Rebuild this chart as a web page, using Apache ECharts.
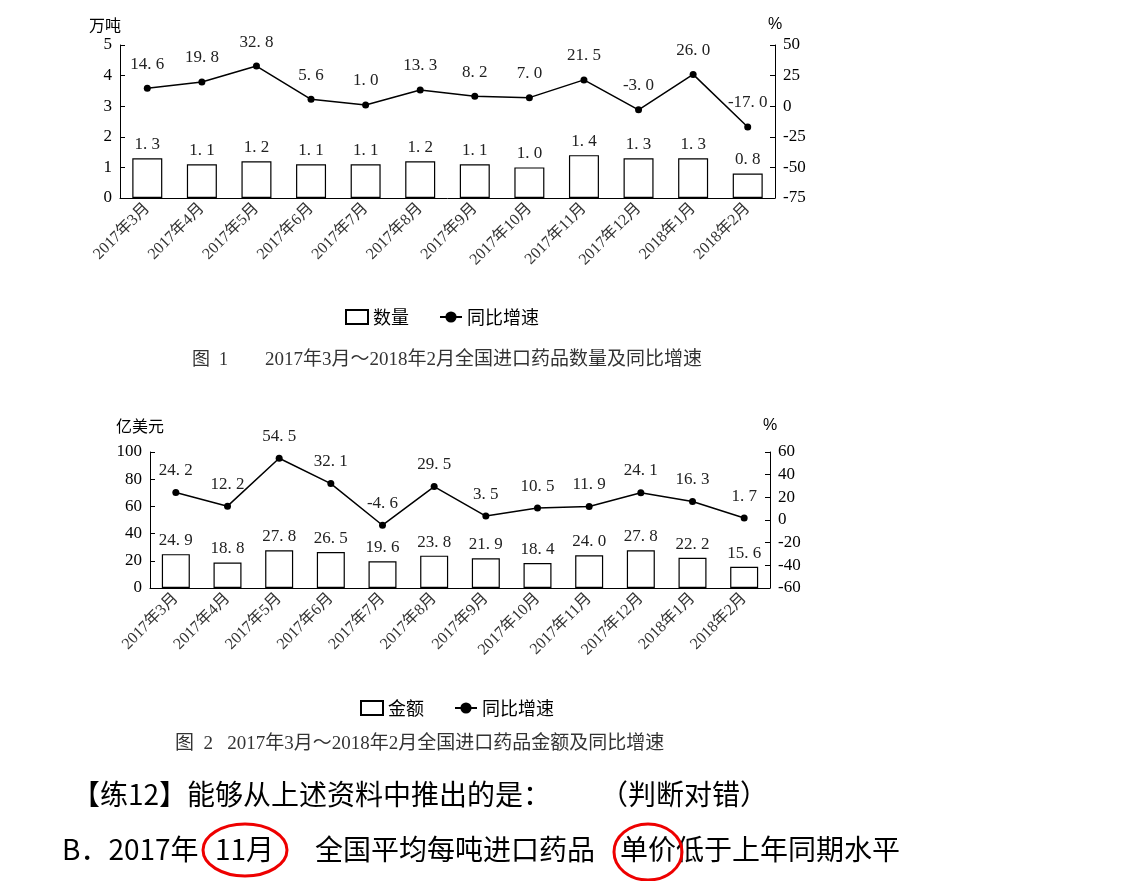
<!DOCTYPE html>
<html><head><meta charset="utf-8">
<script src="https://cdn.jsdelivr.net/npm/echarts@6/dist/echarts.min.js"></script>
<style>body{margin:0;background:#fff}#c{width:1146px;height:881px}</style>
</head><body><div id="c"></div>
<script>
const months = ['2017年3月','2017年4月','2017年5月','2017年6月','2017年7月','2017年8月','2017年9月','2017年10月','2017年11月','2017年12月','2018年1月','2018年2月'];
const qty = [1.3, 1.1, 1.2, 1.1, 1.1, 1.2, 1.1, 1.0, 1.4, 1.3, 1.3, 0.8];
const qtyGrowth = [14.6, 19.8, 32.8, 5.6, 1.0, 13.3, 8.2, 7.0, 21.5, -3.0, 26.0, -17.0];
const amount = [24.9, 18.8, 27.8, 26.5, 19.6, 23.8, 21.9, 18.4, 24.0, 27.8, 22.2, 15.6];
const amountGrowth = [24.2, 12.2, 54.5, 32.1, -4.6, 29.5, 3.5, 10.5, 11.9, 24.1, 16.3, 1.7];

const serif = '"Liberation Serif","Noto Sans CJK SC",serif';
const cjk = '"Noto Sans CJK SC",sans-serif';
const axisBase = {
  axisLine: {show: true, lineStyle: {color: '#000'}},
  axisTick: {show: true, inside: true, lineStyle: {color: '#000'}},
  splitLine: {show: false},
  axisLabel: {color: '#000', fontFamily: serif, fontSize: 17}
};
function catAxis(grid) {
  return {type: 'category', gridIndex: grid, data: months,
    axisLine: {lineStyle: {color: '#000'}}, axisTick: {show: false},
    axisLabel: {rotate: 45, color: '#333', fontFamily: serif, fontSize: 16, interval: 0}};
}
function fmt(v) { return v.toFixed(1).replace('.', '. '); }

const chart = echarts.init(document.getElementById('c'));
chart.setOption({
  animation: false,
  grid: [
    {left: 120, right: 371, top: 45, height: 153},
    {left: 150, right: 376, top: 452, height: 136}
  ],
  xAxis: [catAxis(0), catAxis(1)],
  yAxis: [
    Object.assign({type: 'value', gridIndex: 0, min: 0, max: 5, interval: 1, name: '万吨',
      nameGap: 12, nameTextStyle: {fontFamily: cjk, fontSize: 16, color: '#000', padding: [0, 30, 0, 0]}}, axisBase),
    Object.assign({type: 'value', gridIndex: 0, min: -75, max: 50, interval: 25, position: 'right', name: '%',
      nameGap: 12, nameTextStyle: {fontSize: 16, color: '#000'}}, axisBase),
    Object.assign({type: 'value', gridIndex: 1, min: 0, max: 100, interval: 20, name: '亿美元',
      nameGap: 18, nameTextStyle: {fontFamily: cjk, fontSize: 16, color: '#000', padding: [0, 20, 0, 0]}}, axisBase),
    Object.assign({type: 'value', gridIndex: 1, min: -60, max: 60, interval: 20, position: 'right', name: '%',
      nameGap: 18, nameTextStyle: {fontSize: 16, color: '#000'}}, axisBase)
  ],
  legend: [
    {left: 340, top: 303, itemGap: 30, itemWidth: 22, itemHeight: 14, textStyle: {fontFamily: cjk, fontSize: 18, color: '#000'},
      data: [{name: '数量', icon: 'rect'}, {name: '同比增速'}]},
    {left: 355, top: 694, itemGap: 30, itemWidth: 22, itemHeight: 14, textStyle: {fontFamily: cjk, fontSize: 18, color: '#000'},
      data: [{name: '金额', icon: 'rect'}, {name: '同比增速 '}]}
  ],
  series: [
    {name: '数量', type: 'bar', xAxisIndex: 0, yAxisIndex: 0, data: qty, barWidth: 30,
      itemStyle: {color: '#fff', borderColor: '#000', borderWidth: 1.2},
      label: {show: true, position: 'top', formatter: p => fmt(p.value), fontFamily: serif, fontSize: 17, color: '#222'}},
    {name: '同比增速', type: 'line', xAxisIndex: 0, yAxisIndex: 1, data: qtyGrowth, symbol: 'circle', symbolSize: 7,
      itemStyle: {color: '#000'}, lineStyle: {color: '#000', width: 1.5},
      label: {show: true, position: 'top', distance: 12, formatter: p => fmt(p.value), fontFamily: serif, fontSize: 17, color: '#222'}},
    {name: '金额', type: 'bar', xAxisIndex: 1, yAxisIndex: 2, data: amount, barWidth: 28,
      itemStyle: {color: '#fff', borderColor: '#000', borderWidth: 1.2},
      label: {show: true, position: 'top', formatter: p => fmt(p.value), fontFamily: serif, fontSize: 17, color: '#222'}},
    {name: '同比增速 ', type: 'line', xAxisIndex: 1, yAxisIndex: 3, data: amountGrowth, symbol: 'circle', symbolSize: 7,
      itemStyle: {color: '#000'}, lineStyle: {color: '#000', width: 1.5},
      label: {show: true, position: 'top', distance: 10, formatter: p => fmt(p.value), fontFamily: serif, fontSize: 17, color: '#222'}}
  ],
  graphic: [
    {type: 'text', left: 192, top: 351, style: {text: '图  1', font: '18px ' + serif, fill: '#333'}},
    {type: 'text', left: 265, top: 351, style: {text: '2017年3月～2018年2月全国进口药品数量及同比增速', font: '19px ' + serif, fill: '#333'}},
    {type: 'text', left: 175, top: 735, style: {text: '图  2   2017年3月～2018年2月全国进口药品金额及同比增速', font: '19px ' + serif, fill: '#333'}},
    {type: 'text', left: 72, top: 780, style: {text: '【练12】能够从上述资料中推出的是：', font: '28px ' + cjk, fill: '#000'}},
    {type: 'text', left: 600, top: 780, style: {text: '（判断对错）', font: '28px ' + cjk, fill: '#000'}},
    {type: 'text', left: 62, top: 835, style: {text: 'B．2017年', font: '28px ' + cjk, fill: '#000'}},
    {type: 'text', left: 215, top: 835, style: {text: '11月', font: '28px ' + cjk, fill: '#000'}},
    {type: 'text', left: 315, top: 835, style: {text: '全国平均每吨进口药品', font: '28px ' + cjk, fill: '#000'}},
    {type: 'text', left: 620, top: 835, style: {text: '单价低于上年同期水平', font: '28px ' + cjk, fill: '#000'}},
    {type: 'ellipse', shape: {cx: 245, cy: 850, rx: 42, ry: 26}, style: {fill: 'none', stroke: '#e00', lineWidth: 3}},
    {type: 'ellipse', shape: {cx: 648, cy: 852, rx: 34, ry: 28}, style: {fill: 'none', stroke: '#e00', lineWidth: 3}}
  ]
});
</script></body></html>
